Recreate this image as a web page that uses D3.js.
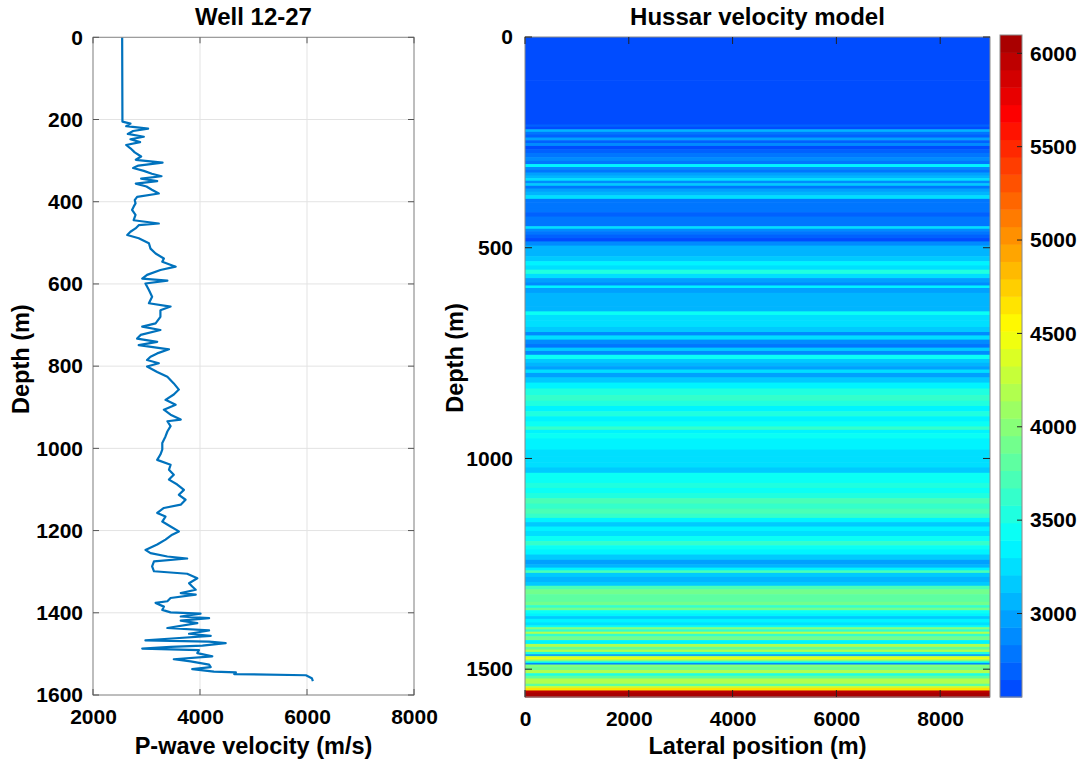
<!DOCTYPE html>
<html>
<head>
<meta charset="utf-8">
<script src="https://cdn.jsdelivr.net/npm/d3@7"></script>
<style>
  html, body { margin: 0; padding: 0; background: #fff; }
  text { font-family: "Liberation Sans", Arial, sans-serif; font-weight: bold; fill: #000; }
</style>
</head>
<body>
<svg id="chart" width="1077" height="764"></svg>
<script>
// ---- data ----
const depth = [0, 205, 210, 216, 222, 228, 235, 242, 248, 255, 262, 270, 280, 290, 298, 305, 312, 318, 325, 332, 338, 344, 350, 356, 363, 371, 380, 388, 396, 404, 412, 420, 432, 445, 453, 457, 465, 473, 481, 489, 501, 514, 526, 538, 546, 558, 566, 578, 587, 592, 599, 615, 631, 647, 655, 664, 680, 696, 704, 712, 724, 733, 741, 749, 759, 769, 777, 785, 793, 801, 814, 826, 842, 857, 869, 882, 894, 906, 918, 930, 934, 946, 959, 971, 987, 1003, 1015, 1028, 1040, 1052, 1064, 1076, 1088, 1101, 1113, 1125, 1137, 1145, 1157, 1166, 1178, 1190, 1202, 1210, 1222, 1234, 1247, 1255, 1263, 1268, 1275, 1287, 1299, 1305, 1316, 1328, 1336, 1344, 1352, 1356, 1364, 1372, 1376, 1385, 1393, 1399, 1402, 1409, 1413, 1419, 1425, 1437, 1443, 1451, 1456, 1462, 1467, 1470, 1474, 1480, 1483, 1487, 1491, 1498, 1506, 1513, 1518, 1526, 1532, 1537, 1543, 1545, 1549, 1552, 1559, 1566];
const velocity = [2545, 2550, 2700, 2620, 3030, 2750, 2650, 2950, 2700, 2880, 2620, 2700, 2780, 2900, 2800, 3300, 2850, 2750, 2950, 3100, 3280, 2900, 3200, 2800, 3000, 3100, 3230, 2825, 2780, 2795, 2760, 2730, 2795, 2760, 3230, 2855, 2795, 2700, 2640, 2855, 3045, 3075, 3170, 3325, 3295, 3545, 3260, 3010, 2920, 3390, 2980, 3045, 3105, 3045, 3450, 3260, 3260, 3170, 2920, 3260, 2890, 2825, 3200, 2855, 3420, 3200, 3075, 3010, 3230, 3010, 3200, 3390, 3510, 3605, 3510, 3355, 3545, 3325, 3450, 3640, 3390, 3450, 3390, 3355, 3295, 3295, 3260, 3200, 3450, 3420, 3510, 3420, 3575, 3700, 3605, 3730, 3640, 3325, 3200, 3355, 3295, 3450, 3605, 3480, 3355, 3200, 2980, 3075, 3390, 3760, 3140, 3105, 3140, 3760, 3950, 3795, 3855, 3920, 3640, 3920, 3450, 3390, 3170, 3325, 3295, 3450, 4010, 3640, 4170, 3640, 3950, 3390, 4170, 3795, 4200, 3545, 2980, 4170, 4480, 4045, 3450, 2920, 3980, 3950, 4230, 3510, 3825, 4170, 4200, 3855, 4260, 4670, 4640, 5980, 6090, 6110];

const wellXTicks = [2000, 4000, 6000, 8000];
const wellYTicks = [0, 200, 400, 600, 800, 1000, 1200, 1400, 1600];
const modelXTicks = [0, 2000, 4000, 6000, 8000];
const modelYTicks = [0, 500, 1000, 1500];
const cbarTicks = [3000, 3500, 4000, 4500, 5000, 5500, 6000];
const lateralExtent = [0, 8960];
const colorRange = [2553, 6098];
const nLevels = 38;

// ---- setup ----
const svg = d3.select("#chart");
const TICK_FS = 21, LABEL_FS = 23.5, TITLE_FS = 24;

function jet(t) {
  const c = v => Math.max(0, Math.min(1, v));
  const r = c(1.5 - Math.abs(4 * t - 3));
  const g = c(1.5 - Math.abs(4 * t - 2));
  const b = c(1.5 - Math.abs(4 * t - 1));
  return d3.rgb(r * 255, g * 255, b * 255).toString();
}
const levelWidth = (colorRange[1] - colorRange[0]) / nLevels;
function levelOf(v) {
  return Math.max(0, Math.min(nLevels - 1, Math.floor((v - colorRange[0]) / levelWidth)));
}
function levelColor(k) {
  const center = colorRange[0] + (k + 0.5) * levelWidth;
  const t = 0.2 + (center - 2600) * 0.00022;
  return jet(t);
}

// ---- left: well log ----
const xL = d3.scaleLinear().domain([2000, 8000]).range([93, 414]);
const yL = d3.scaleLinear().domain([0, 1600]).range([37.3, 695]);

const gL = svg.append("g");
gL.selectAll("line.gx").data(wellXTicks).enter().append("line")
  .attr("x1", d => xL(d)).attr("x2", d => xL(d)).attr("y1", yL(0)).attr("y2", yL(1600))
  .attr("stroke", "#e3e3e3").attr("stroke-width", 1);
gL.selectAll("line.gy").data(wellYTicks).enter().append("line")
  .attr("y1", d => yL(d)).attr("y2", d => yL(d)).attr("x1", xL(2000)).attr("x2", xL(8000))
  .attr("stroke", "#e3e3e3").attr("stroke-width", 1);

const line = d3.line().x((d, i) => xL(velocity[i])).y((d, i) => yL(depth[i]));
gL.append("path").datum(depth).attr("d", line)
  .attr("fill", "none").attr("stroke", "#0072BD").attr("stroke-width", 2.2).attr("stroke-linejoin", "round");

gL.append("rect").attr("x", xL(2000)).attr("y", yL(0))
  .attr("width", xL(8000) - xL(2000)).attr("height", yL(1600) - yL(0))
  .attr("fill", "none").attr("stroke", "#8a8a8a").attr("stroke-width", 1);
const tl = 6;
wellXTicks.forEach(v => {
  gL.append("line").attr("x1", xL(v)).attr("x2", xL(v)).attr("y1", yL(1600)).attr("y2", yL(1600) - tl).attr("stroke", "#555");
  gL.append("line").attr("x1", xL(v)).attr("x2", xL(v)).attr("y1", yL(0)).attr("y2", yL(0) + tl).attr("stroke", "#555");
});
wellYTicks.forEach(v => {
  gL.append("line").attr("x1", xL(2000)).attr("x2", xL(2000) + tl).attr("y1", yL(v)).attr("y2", yL(v)).attr("stroke", "#555");
  gL.append("line").attr("x1", xL(8000)).attr("x2", xL(8000) - tl).attr("y1", yL(v)).attr("y2", yL(v)).attr("stroke", "#555");
});
const axLB = gL.append("g").attr("transform", `translate(0,${yL(1600)})`)
  .call(d3.axisBottom(xL).tickValues(wellXTicks).tickSize(0).tickPadding(14).tickFormat(d3.format("d")));
const axLL = gL.append("g").attr("transform", `translate(${xL(2000)},0)`)
  .call(d3.axisLeft(yL).tickValues(wellYTicks).tickSize(0).tickPadding(10).tickFormat(d3.format("d")));
[axLB, axLL].forEach(a => { a.select(".domain").remove(); a.selectAll("text").style("font-size", TICK_FS + "px").attr("fill", "#000"); });

gL.append("text").attr("x", (xL(2000) + xL(8000)) / 2).attr("y", 25).attr("text-anchor", "middle")
  .style("font-size", TITLE_FS + "px").text("Well 12-27");
gL.append("text").attr("x", (xL(2000) + xL(8000)) / 2).attr("y", 754).attr("text-anchor", "middle")
  .style("font-size", LABEL_FS + "px").text("P-wave velocity (m/s)");
gL.append("text").attr("transform", `translate(29,${(yL(0) + yL(1600)) / 2 - 7}) rotate(-90)`).attr("text-anchor", "middle")
  .style("font-size", LABEL_FS + "px").text("Depth (m)");

// ---- right: velocity model ----
const xR = d3.scaleLinear().domain(lateralExtent).range([525, 990]);
const yR = d3.scaleLinear().domain([0, 1566]).range([37, 697]);
const gR = svg.append("g");

const bounds = depth.map((d, i) => {
  const top = i === 0 ? 0 : (depth[i - 1] + d) / 2;
  const bot = i === depth.length - 1 ? 1566 : (d + depth[i + 1]) / 2;
  return { top, bot, v: velocity[i] };
});
gR.selectAll("rect.band").data(bounds).enter().append("rect")
  .attr("x", xR(lateralExtent[0])).attr("width", xR(lateralExtent[1]) - xR(lateralExtent[0]))
  .attr("y", d => yR(d.top)).attr("height", d => Math.max(0, yR(d.bot) - yR(d.top)) + 0.6)
  .attr("fill", d => levelColor(levelOf(d.v)));
gR.append("rect").attr("x", xR(lateralExtent[0])).attr("y", yR(0))
  .attr("width", xR(lateralExtent[1]) - xR(lateralExtent[0])).attr("height", yR(1566) - yR(0))
  .attr("fill", "none").attr("stroke", "#8a8a8a").attr("stroke-width", 1);
const tr = 7;
modelXTicks.forEach(v => {
  gR.append("line").attr("x1", xR(v)).attr("x2", xR(v)).attr("y1", yR(1566)).attr("y2", yR(1566) - tr).attr("stroke", "#222");
  gR.append("line").attr("x1", xR(v)).attr("x2", xR(v)).attr("y1", yR(0)).attr("y2", yR(0) + tr).attr("stroke", "#222");
});
modelYTicks.forEach(v => {
  gR.append("line").attr("x1", xR(0)).attr("x2", xR(0) + tr).attr("y1", yR(v)).attr("y2", yR(v)).attr("stroke", "#222");
  gR.append("line").attr("x1", xR(lateralExtent[1])).attr("x2", xR(lateralExtent[1]) - tr).attr("y1", yR(v)).attr("y2", yR(v)).attr("stroke", "#222");
});
const axRB = gR.append("g").attr("transform", `translate(0,${yR(1566)})`)
  .call(d3.axisBottom(xR).tickValues(modelXTicks).tickSize(0).tickPadding(14).tickFormat(d3.format("d")));
const axRL = gR.append("g").attr("transform", `translate(${xR(0)},0)`)
  .call(d3.axisLeft(yR).tickValues(modelYTicks).tickSize(0).tickPadding(12).tickFormat(d3.format("d")));
[axRB, axRL].forEach(a => { a.select(".domain").remove(); a.selectAll("text").style("font-size", TICK_FS + "px").attr("fill", "#000"); });

gR.append("text").attr("x", (xR(0) + xR(lateralExtent[1])) / 2).attr("y", 25).attr("text-anchor", "middle")
  .style("font-size", TITLE_FS + "px").text("Hussar velocity model");
gR.append("text").attr("x", (xR(0) + xR(lateralExtent[1])) / 2).attr("y", 754).attr("text-anchor", "middle")
  .style("font-size", LABEL_FS + "px").text("Lateral position (m)");
gR.append("text").attr("transform", `translate(463,${(yR(0) + yR(1566)) / 2 - 9}) rotate(-90)`).attr("text-anchor", "middle")
  .style("font-size", LABEL_FS + "px").text("Depth (m)");

// ---- colorbar ----
const yC = d3.scaleLinear().domain(colorRange).range([697, 35]);
const cbX = 1000, cbW = 22;
const gC = svg.append("g");
const levels = d3.range(nLevels);
gC.selectAll("rect.lv").data(levels).enter().append("rect")
  .attr("x", cbX).attr("width", cbW)
  .attr("y", k => yC(colorRange[0] + (k + 1) * levelWidth))
  .attr("height", k => yC(colorRange[0] + k * levelWidth) - yC(colorRange[0] + (k + 1) * levelWidth) + 0.5)
  .attr("fill", k => levelColor(k));
gC.append("rect").attr("x", cbX).attr("y", yC(colorRange[1])).attr("width", cbW)
  .attr("height", yC(colorRange[0]) - yC(colorRange[1]))
  .attr("fill", "none").attr("stroke", "#8a8a8a").attr("stroke-width", 1);
cbarTicks.forEach(v => {
  gC.append("line").attr("x1", cbX + cbW).attr("x2", cbX + cbW - 5).attr("y1", yC(v)).attr("y2", yC(v)).attr("stroke", "#222");
});
const axC = gC.append("g").attr("transform", `translate(${cbX + cbW},0)`)
  .call(d3.axisRight(yC).tickValues(cbarTicks).tickSize(0).tickPadding(8).tickFormat(d3.format("d")));
axC.select(".domain").remove();
axC.selectAll("text").style("font-size", TICK_FS + "px").attr("fill", "#000");
</script>
</body>
</html>
